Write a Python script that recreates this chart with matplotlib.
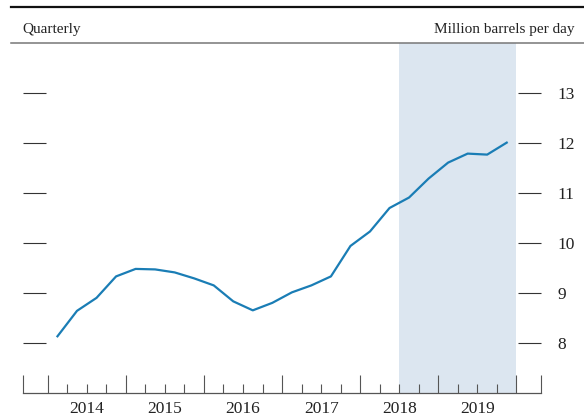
import matplotlib
matplotlib.use("Agg")
import matplotlib.pyplot as plt
from matplotlib.lines import Line2D
from matplotlib.ticker import FixedLocator, FixedFormatter, NullFormatter

# quarterly crude oil production, million barrels per day
years = [2014, 2015, 2016, 2017, 2018, 2019]
quarters = [y + (q - 0.5) / 4 for y in years for q in range(1, 5)]
production = [8.13, 8.64, 8.90, 9.33,
              9.48, 9.47, 9.41, 9.29,
              9.15, 8.83, 8.65, 8.80,
              9.01, 9.15, 9.33, 9.94,
              10.23, 10.70, 10.91, 11.29,
              11.61, 11.79, 11.77, 12.01]
y_ticks = [8, 9, 10, 11, 12, 13]
shade_start, shade_end = 2018.5, 2020.0

plt.rcParams['font.family'] = ['Liberation Serif', 'DejaVu Serif']

W, H = 584, 420
fig = plt.figure(figsize=(W / 100, H / 100), dpi=100)
ax = fig.add_axes([22.7 / W, 1 - 392.7 / H, (540.7 - 22.7) / W, (392.7 - 43.3) / H])

xmin, xmax = 2013.68, 2020.31
ax.set_xlim(xmin, xmax)
ax.set_ylim(7, 14)

ax.axvspan(shade_start, shade_end, color='#dce6f0', lw=0, zorder=0)
ax.plot(quarters, production, color='#1a7db5', lw=1.6, zorder=3)

for s in ['top', 'left', 'right']:
    ax.spines[s].set_visible(False)
ax.spines['bottom'].set_color('#555555')
ax.spines['bottom'].set_linewidth(0.9)

# x axis: tall ticks at year boundaries, short ticks at quarters, labels mid-year
major = [xmin] + list(range(2014, 2021)) + [xmax]
ax.xaxis.set_major_locator(FixedLocator(major))
ax.xaxis.set_major_formatter(NullFormatter())
minor = [y + q / 4 for y in years for q in (1, 2, 3)]
minor_labels = [str(int(m)) if (m % 1) == 0.5 else '' for m in minor]
ax.xaxis.set_minor_locator(FixedLocator(minor))
ax.xaxis.set_minor_formatter(FixedFormatter(minor_labels))
ax.tick_params(axis='x', which='major', direction='in', length=13, width=0.8,
               color='#555555')
ax.tick_params(axis='x', which='minor', direction='in', length=6.5, width=0.8,
               color='#555555', labelsize=12.5, pad=6, labelcolor='#222222')

# y axis: inward ticks on both sides, labels on the right
ax.set_yticks(y_ticks)
ax.set_yticklabels([str(v) for v in y_ticks])
ax.tick_params(axis='y', direction='in', length=16.5, width=0.8, color='#333333',
               left=True, right=True, labelleft=False, labelright=True,
               labelsize=12.5, pad=12, labelcolor='#222222')

# header rules and text
fig.add_artist(Line2D([11 / W, 1], [1 - 6.7 / H] * 2, color='#111111', lw=1.6))
fig.add_artist(Line2D([11 / W, 1], [1 - 42.7 / H] * 2, color='#777777', lw=1.1))
fig.text(22.7 / W, 1 - 33.3 / H, 'Quarterly', fontsize=11, va='baseline',
         ha='left', color='#222222')
fig.text(574.7 / W, 1 - 33.3 / H, 'Million barrels per day', fontsize=11,
         va='baseline', ha='right', color='#222222')

fig.savefig('out.png', dpi=100)
